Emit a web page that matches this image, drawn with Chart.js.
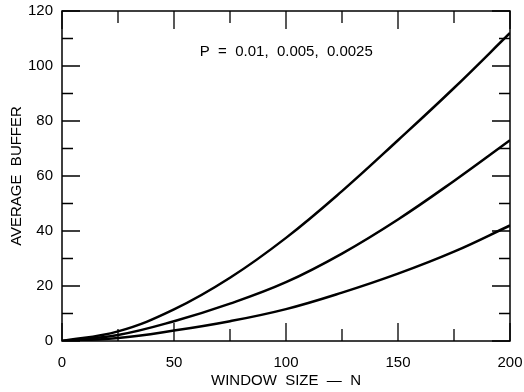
<!DOCTYPE html>
<html>
<head>
<meta charset="utf-8">
<script src="https://cdn.jsdelivr.net/npm/chart.js@4"></script>
<style>
  html, body { margin: 0; padding: 0; background: #fff; }
  #wrap { width: 524px; height: 392px; }
</style>
</head>
<body>
<div id="wrap"><canvas id="bufferChart"></canvas></div>
<script>
// values
const windowSize = [0, 25, 50, 75, 100, 125, 150, 175, 200];
const bufferP01 = [0, 3.5, 11.5, 23, 37.5, 54.5, 73, 92, 112];
const bufferP005 = [0, 2.2, 7.2, 13.6, 21.4, 31.8, 44.2, 58.2, 73];
const bufferP0025 = [0, 1.1, 3.8, 7.2, 11.6, 17.6, 24.5, 32.5, 42];
const xTicks = [0, 50, 100, 150, 200];
const yTicks = [0, 20, 40, 60, 80, 100, 120];
const note = "P  =  0.01,  0.005,  0.0025";

const FONT = "'Liberation Sans', Arial, Helvetica, sans-serif";

function pts(ys) {
  return windowSize.map((x, i) => ({ x: x, y: ys[i] }));
}

function line(label, ys) {
  return {
    label,
    data: pts(ys),
    borderColor: "#000",
    borderWidth: 2.5,
    pointRadius: 0,
    fill: false,
    tension: 0.4
  };
}

// frame, inward ticks on all four sides, and the P note
const framePlugin = {
  id: "frame",
  afterDraw(chart) {
    const { ctx, chartArea: a, scales: { x, y } } = chart;
    ctx.save();
    ctx.strokeStyle = "#000";
    ctx.lineWidth = 1.5;
    ctx.strokeRect(a.left, a.top, a.right - a.left, a.bottom - a.top);

    ctx.lineWidth = 1.3;
    const xs = x.ticks.map(t => t.value);
    for (let i = 0; i < xs.length; i++) {
      const px = x.getPixelForValue(xs[i]);
      ctx.beginPath();
      ctx.moveTo(px, a.bottom); ctx.lineTo(px, a.bottom - 18);
      ctx.moveTo(px, a.top); ctx.lineTo(px, a.top + 18);
      ctx.stroke();
      if (i < xs.length - 1) {
        const mx = x.getPixelForValue((xs[i] + xs[i + 1]) / 2);
        ctx.beginPath();
        ctx.moveTo(mx, a.bottom); ctx.lineTo(mx, a.bottom - 12);
        ctx.moveTo(mx, a.top); ctx.lineTo(mx, a.top + 12);
        ctx.stroke();
      }
    }
    const ys = y.ticks.map(t => t.value);
    for (let i = 0; i < ys.length; i++) {
      const py = y.getPixelForValue(ys[i]);
      ctx.beginPath();
      ctx.moveTo(a.left, py); ctx.lineTo(a.left + 18, py);
      ctx.moveTo(a.right, py); ctx.lineTo(a.right - 18, py);
      ctx.stroke();
      if (i < ys.length - 1) {
        const my = y.getPixelForValue((ys[i] + ys[i + 1]) / 2);
        ctx.beginPath();
        ctx.moveTo(a.left, my); ctx.lineTo(a.left + 11, my);
        ctx.moveTo(a.right, my); ctx.lineTo(a.right - 11, my);
        ctx.stroke();
      }
    }

    ctx.fillStyle = "#000";
    ctx.font = "15px " + FONT;
    ctx.textBaseline = "middle";
    ctx.textAlign = "left";
    ctx.fillText(note, x.getPixelForValue(61.5), y.getPixelForValue(105));
    ctx.restore();
  }
};

new Chart(document.getElementById("bufferChart"), {
  type: "line",
  data: {
    datasets: [
      line("P = 0.01", bufferP01),
      line("P = 0.005", bufferP005),
      line("P = 0.0025", bufferP0025)
    ]
  },
  options: {
    responsive: true,
    maintainAspectRatio: false,
    animation: false,
    layout: { padding: 0 },
    plugins: { legend: { display: false }, tooltip: { enabled: false } },
    scales: {
      x: {
        type: "linear",
        min: 0,
        max: 200,
        afterBuildTicks: s => { s.ticks = xTicks.map(v => ({ value: v })); },
        afterFit: s => { s.height = 51; s.paddingLeft = 0; s.paddingRight = 14; },
        grid: { display: false },
        border: { display: false },
        ticks: { color: "#000", padding: 5, maxRotation: 0, font: { family: FONT, size: 15 } },
        title: {
          display: true,
          text: "WINDOW  SIZE  —  N",
          color: "#000",
          padding: { top: 0, bottom: 2 },
          font: { family: FONT, size: 15 }
        }
      },
      y: {
        min: 0,
        max: 120,
        afterBuildTicks: s => { s.ticks = yTicks.map(v => ({ value: v })); },
        afterFit: s => { s.width = 62; s.paddingTop = 11; s.paddingBottom = 0; },
        grid: { display: false },
        border: { display: false },
        ticks: { color: "#000", padding: 1, font: { family: FONT, size: 15 } },
        title: {
          display: true,
          text: "AVERAGE  BUFFER",
          color: "#000",
          padding: { top: 8, bottom: 0 },
          font: { family: FONT, size: 15 }
        }
      }
    }
  },
  plugins: [framePlugin]
});
</script>
</body>
</html>
